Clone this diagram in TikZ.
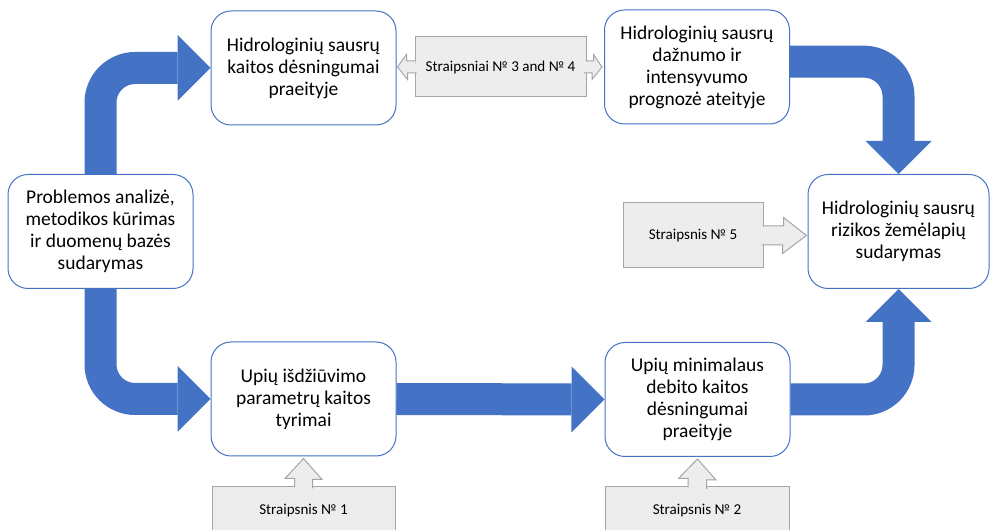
\documentclass[tikz,border=0pt]{standalone}
\usepackage{fontspec}
\setmainfont{Carlito}
\usepackage{tikz}
\usetikzlibrary{arrows.meta,calc,positioning}
\definecolor{boxblue}{HTML}{4472C4}
\definecolor{papergray}{HTML}{EDEDED}
\definecolor{paperline}{HTML}{A5A5A5}

\begin{document}
\begin{tikzpicture}[x=0.75pt,y=-0.75pt,
    stage/.style={draw=boxblue,line width=0.75pt,fill=white,rounded corners=15pt,align=center,
      minimum width=138.75pt,minimum height=85.5pt,font=\fontsize{14.6}{16.5}\selectfont},
    paper/.style={draw=paperline,line width=0.75pt,fill=papergray,align=center,
      font=\fontsize{11.3}{13}\selectfont},
    bigarrow/.style={boxblue,line width=24pt,rounded corners=26pt,
      -{Triangle[length=24.75pt,width=49.5pt,line width=0pt]}},
    pointer/.style={draw=paperline,line width=0.75pt,fill=papergray,line join=miter}]
      \useasboundingbox (0,0) rectangle (990,530);
      \begin{scope}
        \node[stage] (prob) at (100.5,231.5) {Problemos analizė,\\metodikos kūrimas\\ir duomenų bazės\\sudarymas};
        \node[stage] (past) at (303.5,68) {Hidrologinių sausrų\\kaitos dėsningumai\\praeityje};
        \node[stage] (future) at (697,67) {Hidrologinių sausrų\\dažnumo ir\\intensyvumo\\prognozė ateityje};
        \node[stage,minimum width=135.75pt] (risk) at (898.5,231.5) {Hidrologinių sausrų\\rizikos žemėlapių\\sudarymas};
        \node[stage] (dry) at (303.5,399) {Upių išdžiūvimo\\parametrų kaitos\\tyrimai};
        \node[stage] (minflow) at (697.5,399.5) {Upių minimalaus\\debito kaitos\\dėsningumai\\praeityje};
      \end{scope}
      \begin{scope}
        \draw[bigarrow] (prob.north) |- (past.west);
        \draw[bigarrow] (prob.south) |- (dry.west);
        \draw[bigarrow] ([yshift=4pt]future.east) -| (risk.north);
        \draw[bigarrow] (minflow.east) -| (risk.south);
        \draw[bigarrow] (dry.east) -- (minflow.west);
      \end{scope}
      \begin{scope}
        \node[paper,minimum width=128.25pt,minimum height=45pt] (str34) at (500.5,67) {Straipsniai № 3 and № 4};
        \node[paper,minimum width=105pt,minimum height=48.75pt] (str5) at (693,235.5) {Straipsnis № 5};
        \node[paper,minimum width=137.25pt,minimum height=36pt] (str1) at (303.5,511) {Straipsnis № 1};
        \node[paper,minimum width=138pt,minimum height=36pt] (str2) at (697,511) {Straipsnis № 2};
        \filldraw[pointer] ($(str34.west)+(1,-6)$) -- ++(-9,0) -- ++(0,-6.5) -- ($(past.east |- str34.west)+(1,0)$) -- ++(10,12.5) -- ++(0,-6.5) -- ++(9,0);
        \filldraw[pointer] ($(str34.east)+(-1,-6)$) -- ++(8,0) -- ++(0,-6.5) -- ($(future.west |- str34.east)+(-2,0)$) -- ++(-10,12.5) -- ++(0,-6.5) -- ++(-8,0);
        \filldraw[pointer] ($(str5.east)+(-1,-9.5)$) -- ++(21,0) -- ++(0,-8.5) -- ($(risk.west |- str5.east)+(-1,0)$) -- ++(-24,18) -- ++(0,-8.5) -- ++(-21,0);
        \filldraw[pointer] ($(str1.north)+(-9,1)$) -- ++(0,-9) -- ++(-9.5,0) -- ($(dry.south)+(0,2)$) -- ++(18.5,21) -- ++(-9.5,0) -- ++(0,9);
        \filldraw[pointer] ($(str2.north)+(-9,1)$) -- ++(0,-9) -- ++(-9.5,0) -- ($(minflow.south)+(0,2)$) -- ++(18.5,21) -- ++(-9.5,0) -- ++(0,9);
      \end{scope}
    \end{tikzpicture}
\end{document}
